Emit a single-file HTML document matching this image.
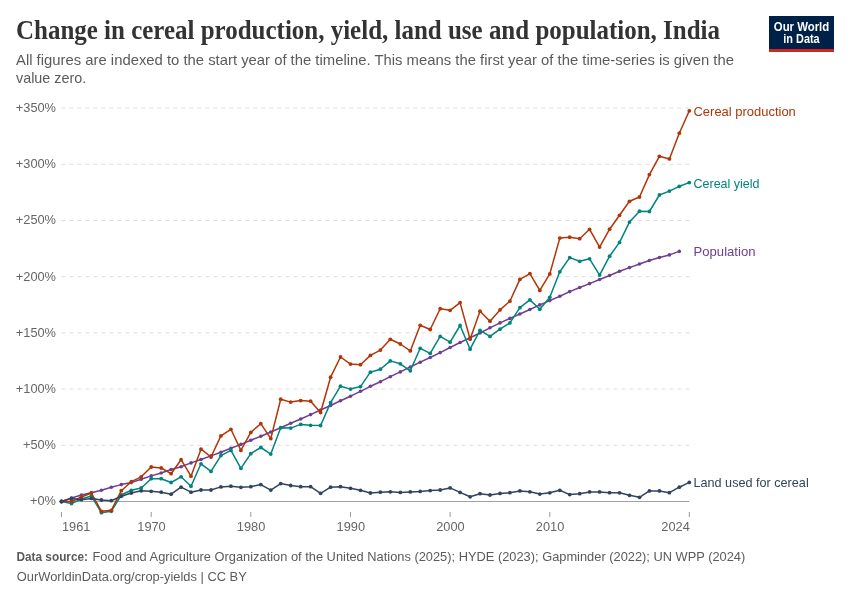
<!DOCTYPE html>
<html><head><meta charset="utf-8"><style>
html,body{margin:0;padding:0;background:#fff;}
body{width:850px;height:600px;overflow:hidden;}
svg text{font-family:"Liberation Sans",sans-serif;}
svg{will-change:transform;}
</style></head><body>
<svg width="850" height="600" viewBox="0 0 850 600">
<rect width="850" height="600" fill="#fff"/>
<text x="16" y="38.5" style="font-family:'Liberation Serif',serif" font-weight="bold" font-size="26.5" fill="#333" textLength="704" lengthAdjust="spacingAndGlyphs">Change in cereal production, yield, land use and population, India</text>
<text x="16" y="64.6" font-size="14.8" fill="#5b5b5b" textLength="718" lengthAdjust="spacingAndGlyphs">All figures are indexed to the start year of the timeline. This means the first year of the time-series is given the</text>
<text x="16" y="82.5" font-size="14.8" fill="#5b5b5b" textLength="70.3" lengthAdjust="spacingAndGlyphs">value zero.</text>
<rect x="769" y="16" width="65" height="33" fill="#002147"/>
<rect x="769" y="49" width="65" height="3" fill="#ce261e"/>
<text x="773.8" y="30.8" font-size="12" font-weight="bold" fill="#fff" textLength="55.4" lengthAdjust="spacingAndGlyphs">Our World</text>
<text x="783.3" y="42.9" font-size="12" font-weight="bold" fill="#fff" textLength="36.4" lengthAdjust="spacingAndGlyphs">in Data</text>
<line x1="61.5" x2="689.3" y1="445.3" y2="445.3" stroke="#dddddd" stroke-width="1" stroke-dasharray="4,4"/><line x1="61.5" x2="689.3" y1="389.1" y2="389.1" stroke="#dddddd" stroke-width="1" stroke-dasharray="4,4"/><line x1="61.5" x2="689.3" y1="332.9" y2="332.9" stroke="#dddddd" stroke-width="1" stroke-dasharray="4,4"/><line x1="61.5" x2="689.3" y1="276.7" y2="276.7" stroke="#dddddd" stroke-width="1" stroke-dasharray="4,4"/><line x1="61.5" x2="689.3" y1="220.5" y2="220.5" stroke="#dddddd" stroke-width="1" stroke-dasharray="4,4"/><line x1="61.5" x2="689.3" y1="164.3" y2="164.3" stroke="#dddddd" stroke-width="1" stroke-dasharray="4,4"/><line x1="61.5" x2="689.3" y1="108.1" y2="108.1" stroke="#dddddd" stroke-width="1" stroke-dasharray="4,4"/>
<g font-size="12.8" fill="#666"><text x="56" y="505.4" text-anchor="end">+0%</text><text x="56" y="449.2" text-anchor="end">+50%</text><text x="56" y="393.0" text-anchor="end">+100%</text><text x="56" y="336.8" text-anchor="end">+150%</text><text x="56" y="280.6" text-anchor="end">+200%</text><text x="56" y="224.4" text-anchor="end">+250%</text><text x="56" y="168.2" text-anchor="end">+300%</text><text x="56" y="112.0" text-anchor="end">+350%</text></g>
<line x1="61.5" x2="689.3" y1="501.5" y2="501.5" stroke="#a1a1a1" stroke-width="1"/>
<g font-size="12.8" fill="#666"><line x1="61.5" x2="61.5" y1="512" y2="517" stroke="#999" stroke-width="1"/><text x="62.0" y="531" text-anchor="start">1961</text><line x1="151.2" x2="151.2" y1="512" y2="517" stroke="#999" stroke-width="1"/><text x="151.5" y="531" text-anchor="middle">1970</text><line x1="250.8" x2="250.8" y1="512" y2="517" stroke="#999" stroke-width="1"/><text x="251.1" y="531" text-anchor="middle">1980</text><line x1="350.5" x2="350.5" y1="512" y2="517" stroke="#999" stroke-width="1"/><text x="350.8" y="531" text-anchor="middle">1990</text><line x1="450.1" x2="450.1" y1="512" y2="517" stroke="#999" stroke-width="1"/><text x="450.4" y="531" text-anchor="middle">2000</text><line x1="549.8" x2="549.8" y1="512" y2="517" stroke="#999" stroke-width="1"/><text x="550.1" y="531" text-anchor="middle">2010</text><line x1="689.3" x2="689.3" y1="512" y2="517" stroke="#999" stroke-width="1"/><text x="689.8" y="531" text-anchor="end">2024</text></g>
<path d="M61.5,501.5 L71.5,498.0 L81.4,495.0 L91.4,492.7 L101.4,490.3 L111.3,487.3 L121.3,484.6 L131.3,482.6 L141.2,479.2 L151.2,475.9 L161.2,473.0 L171.1,469.5 L181.1,466.7 L191.0,462.9 L201.0,459.5 L211.0,455.9 L220.9,452.2 L230.9,448.3 L240.9,444.4 L250.8,440.2 L260.8,436.3 L270.8,432.0 L280.7,427.7 L290.7,423.3 L300.7,419.0 L310.6,414.6 L320.6,410.0 L330.6,405.5 L340.5,400.8 L350.5,396.2 L360.5,391.3 L370.4,386.3 L380.4,381.7 L390.3,376.7 L400.3,371.9 L410.3,367.0 L420.2,362.2 L430.2,357.5 L440.2,352.6 L450.1,347.5 L460.1,342.5 L470.1,337.8 L480.0,333.0 L490.0,327.8 L500.0,322.9 L509.9,318.4 L519.9,314.0 L529.9,309.5 L539.8,304.9 L549.8,300.6 L559.8,296.3 L569.7,291.6 L579.7,287.5 L589.6,283.6 L599.6,279.5 L609.6,275.5 L619.5,271.3 L629.5,267.6 L639.5,264.0 L649.4,260.5 L659.4,257.5 L669.4,254.9 L679.3,251.4" fill="none" stroke="#6d3e91" stroke-width="1.5" stroke-linejoin="round"/><g fill="#6d3e91"><circle cx="61.5" cy="501.5" r="1.8"/><circle cx="71.5" cy="498.0" r="1.8"/><circle cx="81.4" cy="495.0" r="1.8"/><circle cx="91.4" cy="492.7" r="1.8"/><circle cx="101.4" cy="490.3" r="1.8"/><circle cx="111.3" cy="487.3" r="1.8"/><circle cx="121.3" cy="484.6" r="1.8"/><circle cx="131.3" cy="482.6" r="1.8"/><circle cx="141.2" cy="479.2" r="1.8"/><circle cx="151.2" cy="475.9" r="1.8"/><circle cx="161.2" cy="473.0" r="1.8"/><circle cx="171.1" cy="469.5" r="1.8"/><circle cx="181.1" cy="466.7" r="1.8"/><circle cx="191.0" cy="462.9" r="1.8"/><circle cx="201.0" cy="459.5" r="1.8"/><circle cx="211.0" cy="455.9" r="1.8"/><circle cx="220.9" cy="452.2" r="1.8"/><circle cx="230.9" cy="448.3" r="1.8"/><circle cx="240.9" cy="444.4" r="1.8"/><circle cx="250.8" cy="440.2" r="1.8"/><circle cx="260.8" cy="436.3" r="1.8"/><circle cx="270.8" cy="432.0" r="1.8"/><circle cx="280.7" cy="427.7" r="1.8"/><circle cx="290.7" cy="423.3" r="1.8"/><circle cx="300.7" cy="419.0" r="1.8"/><circle cx="310.6" cy="414.6" r="1.8"/><circle cx="320.6" cy="410.0" r="1.8"/><circle cx="330.6" cy="405.5" r="1.8"/><circle cx="340.5" cy="400.8" r="1.8"/><circle cx="350.5" cy="396.2" r="1.8"/><circle cx="360.5" cy="391.3" r="1.8"/><circle cx="370.4" cy="386.3" r="1.8"/><circle cx="380.4" cy="381.7" r="1.8"/><circle cx="390.3" cy="376.7" r="1.8"/><circle cx="400.3" cy="371.9" r="1.8"/><circle cx="410.3" cy="367.0" r="1.8"/><circle cx="420.2" cy="362.2" r="1.8"/><circle cx="430.2" cy="357.5" r="1.8"/><circle cx="440.2" cy="352.6" r="1.8"/><circle cx="450.1" cy="347.5" r="1.8"/><circle cx="460.1" cy="342.5" r="1.8"/><circle cx="470.1" cy="337.8" r="1.8"/><circle cx="480.0" cy="333.0" r="1.8"/><circle cx="490.0" cy="327.8" r="1.8"/><circle cx="500.0" cy="322.9" r="1.8"/><circle cx="509.9" cy="318.4" r="1.8"/><circle cx="519.9" cy="314.0" r="1.8"/><circle cx="529.9" cy="309.5" r="1.8"/><circle cx="539.8" cy="304.9" r="1.8"/><circle cx="549.8" cy="300.6" r="1.8"/><circle cx="559.8" cy="296.3" r="1.8"/><circle cx="569.7" cy="291.6" r="1.8"/><circle cx="579.7" cy="287.5" r="1.8"/><circle cx="589.6" cy="283.6" r="1.8"/><circle cx="599.6" cy="279.5" r="1.8"/><circle cx="609.6" cy="275.5" r="1.8"/><circle cx="619.5" cy="271.3" r="1.8"/><circle cx="629.5" cy="267.6" r="1.8"/><circle cx="639.5" cy="264.0" r="1.8"/><circle cx="649.4" cy="260.5" r="1.8"/><circle cx="659.4" cy="257.5" r="1.8"/><circle cx="669.4" cy="254.9" r="1.8"/><circle cx="679.3" cy="251.4" r="1.8"/></g>
<path d="M61.5,501.5 L71.5,503.6 L81.4,499.0 L91.4,496.0 L101.4,512.7 L111.3,511.3 L121.3,495.0 L131.3,490.3 L141.2,488.0 L151.2,478.7 L161.2,478.7 L171.1,482.5 L181.1,476.8 L191.0,486.2 L201.0,463.8 L211.0,471.4 L220.9,455.6 L230.9,450.4 L240.9,468.3 L250.8,453.7 L260.8,447.5 L270.8,454.1 L280.7,427.7 L290.7,428.1 L300.7,424.4 L310.6,425.3 L320.6,425.5 L330.6,402.6 L340.5,386.2 L350.5,389.1 L360.5,386.6 L370.4,372.2 L380.4,369.2 L390.3,360.9 L400.3,363.8 L410.3,370.8 L420.2,348.3 L430.2,353.4 L440.2,336.4 L450.1,342.2 L460.1,325.5 L470.1,349.2 L480.0,330.3 L490.0,336.4 L500.0,329.2 L509.9,322.9 L519.9,307.7 L529.9,299.9 L539.8,309.3 L549.8,297.3 L559.8,271.8 L569.7,257.6 L579.7,261.3 L589.6,258.8 L599.6,275.1 L609.6,256.2 L619.5,242.4 L629.5,222.1 L639.5,211.2 L649.4,211.5 L659.4,195.0 L669.4,191.1 L679.3,186.3 L689.3,182.6" fill="none" stroke="#00847e" stroke-width="1.5" stroke-linejoin="round"/><g fill="#00847e"><circle cx="61.5" cy="501.5" r="1.9"/><circle cx="71.5" cy="503.6" r="1.9"/><circle cx="81.4" cy="499.0" r="1.9"/><circle cx="91.4" cy="496.0" r="1.9"/><circle cx="101.4" cy="512.7" r="1.9"/><circle cx="111.3" cy="511.3" r="1.9"/><circle cx="121.3" cy="495.0" r="1.9"/><circle cx="131.3" cy="490.3" r="1.9"/><circle cx="141.2" cy="488.0" r="1.9"/><circle cx="151.2" cy="478.7" r="1.9"/><circle cx="161.2" cy="478.7" r="1.9"/><circle cx="171.1" cy="482.5" r="1.9"/><circle cx="181.1" cy="476.8" r="1.9"/><circle cx="191.0" cy="486.2" r="1.9"/><circle cx="201.0" cy="463.8" r="1.9"/><circle cx="211.0" cy="471.4" r="1.9"/><circle cx="220.9" cy="455.6" r="1.9"/><circle cx="230.9" cy="450.4" r="1.9"/><circle cx="240.9" cy="468.3" r="1.9"/><circle cx="250.8" cy="453.7" r="1.9"/><circle cx="260.8" cy="447.5" r="1.9"/><circle cx="270.8" cy="454.1" r="1.9"/><circle cx="280.7" cy="427.7" r="1.9"/><circle cx="290.7" cy="428.1" r="1.9"/><circle cx="300.7" cy="424.4" r="1.9"/><circle cx="310.6" cy="425.3" r="1.9"/><circle cx="320.6" cy="425.5" r="1.9"/><circle cx="330.6" cy="402.6" r="1.9"/><circle cx="340.5" cy="386.2" r="1.9"/><circle cx="350.5" cy="389.1" r="1.9"/><circle cx="360.5" cy="386.6" r="1.9"/><circle cx="370.4" cy="372.2" r="1.9"/><circle cx="380.4" cy="369.2" r="1.9"/><circle cx="390.3" cy="360.9" r="1.9"/><circle cx="400.3" cy="363.8" r="1.9"/><circle cx="410.3" cy="370.8" r="1.9"/><circle cx="420.2" cy="348.3" r="1.9"/><circle cx="430.2" cy="353.4" r="1.9"/><circle cx="440.2" cy="336.4" r="1.9"/><circle cx="450.1" cy="342.2" r="1.9"/><circle cx="460.1" cy="325.5" r="1.9"/><circle cx="470.1" cy="349.2" r="1.9"/><circle cx="480.0" cy="330.3" r="1.9"/><circle cx="490.0" cy="336.4" r="1.9"/><circle cx="500.0" cy="329.2" r="1.9"/><circle cx="509.9" cy="322.9" r="1.9"/><circle cx="519.9" cy="307.7" r="1.9"/><circle cx="529.9" cy="299.9" r="1.9"/><circle cx="539.8" cy="309.3" r="1.9"/><circle cx="549.8" cy="297.3" r="1.9"/><circle cx="559.8" cy="271.8" r="1.9"/><circle cx="569.7" cy="257.6" r="1.9"/><circle cx="579.7" cy="261.3" r="1.9"/><circle cx="589.6" cy="258.8" r="1.9"/><circle cx="599.6" cy="275.1" r="1.9"/><circle cx="609.6" cy="256.2" r="1.9"/><circle cx="619.5" cy="242.4" r="1.9"/><circle cx="629.5" cy="222.1" r="1.9"/><circle cx="639.5" cy="211.2" r="1.9"/><circle cx="649.4" cy="211.5" r="1.9"/><circle cx="659.4" cy="195.0" r="1.9"/><circle cx="669.4" cy="191.1" r="1.9"/><circle cx="679.3" cy="186.3" r="1.9"/><circle cx="689.3" cy="182.6" r="1.9"/></g>
<path d="M61.5,501.5 L71.5,501.5 L81.4,497.0 L91.4,493.0 L101.4,511.3 L111.3,510.3 L121.3,490.7 L131.3,481.7 L141.2,476.8 L151.2,467.0 L161.2,468.0 L171.1,473.7 L181.1,459.7 L191.0,476.2 L201.0,449.2 L211.0,457.0 L220.9,435.9 L230.9,429.3 L240.9,450.4 L250.8,432.4 L260.8,423.7 L270.8,438.6 L280.7,399.2 L290.7,402.1 L300.7,400.6 L310.6,401.2 L320.6,412.5 L330.6,377.2 L340.5,357.0 L350.5,364.1 L360.5,364.7 L370.4,355.4 L380.4,350.1 L390.3,339.3 L400.3,344.0 L410.3,350.9 L420.2,325.3 L430.2,329.5 L440.2,308.7 L450.1,310.3 L460.1,302.6 L470.1,339.2 L480.0,311.2 L490.0,321.2 L500.0,309.9 L509.9,301.2 L519.9,279.4 L529.9,273.6 L539.8,290.4 L549.8,273.9 L559.8,238.1 L569.7,237.2 L579.7,238.7 L589.6,229.3 L599.6,247.1 L609.6,229.2 L619.5,215.3 L629.5,201.3 L639.5,197.0 L649.4,174.6 L659.4,156.3 L669.4,158.9 L679.3,133.2 L689.3,110.8" fill="none" stroke="#b13507" stroke-width="1.5" stroke-linejoin="round"/><g fill="#b13507"><circle cx="61.5" cy="501.5" r="1.9"/><circle cx="71.5" cy="501.5" r="1.9"/><circle cx="81.4" cy="497.0" r="1.9"/><circle cx="91.4" cy="493.0" r="1.9"/><circle cx="101.4" cy="511.3" r="1.9"/><circle cx="111.3" cy="510.3" r="1.9"/><circle cx="121.3" cy="490.7" r="1.9"/><circle cx="131.3" cy="481.7" r="1.9"/><circle cx="141.2" cy="476.8" r="1.9"/><circle cx="151.2" cy="467.0" r="1.9"/><circle cx="161.2" cy="468.0" r="1.9"/><circle cx="171.1" cy="473.7" r="1.9"/><circle cx="181.1" cy="459.7" r="1.9"/><circle cx="191.0" cy="476.2" r="1.9"/><circle cx="201.0" cy="449.2" r="1.9"/><circle cx="211.0" cy="457.0" r="1.9"/><circle cx="220.9" cy="435.9" r="1.9"/><circle cx="230.9" cy="429.3" r="1.9"/><circle cx="240.9" cy="450.4" r="1.9"/><circle cx="250.8" cy="432.4" r="1.9"/><circle cx="260.8" cy="423.7" r="1.9"/><circle cx="270.8" cy="438.6" r="1.9"/><circle cx="280.7" cy="399.2" r="1.9"/><circle cx="290.7" cy="402.1" r="1.9"/><circle cx="300.7" cy="400.6" r="1.9"/><circle cx="310.6" cy="401.2" r="1.9"/><circle cx="320.6" cy="412.5" r="1.9"/><circle cx="330.6" cy="377.2" r="1.9"/><circle cx="340.5" cy="357.0" r="1.9"/><circle cx="350.5" cy="364.1" r="1.9"/><circle cx="360.5" cy="364.7" r="1.9"/><circle cx="370.4" cy="355.4" r="1.9"/><circle cx="380.4" cy="350.1" r="1.9"/><circle cx="390.3" cy="339.3" r="1.9"/><circle cx="400.3" cy="344.0" r="1.9"/><circle cx="410.3" cy="350.9" r="1.9"/><circle cx="420.2" cy="325.3" r="1.9"/><circle cx="430.2" cy="329.5" r="1.9"/><circle cx="440.2" cy="308.7" r="1.9"/><circle cx="450.1" cy="310.3" r="1.9"/><circle cx="460.1" cy="302.6" r="1.9"/><circle cx="470.1" cy="339.2" r="1.9"/><circle cx="480.0" cy="311.2" r="1.9"/><circle cx="490.0" cy="321.2" r="1.9"/><circle cx="500.0" cy="309.9" r="1.9"/><circle cx="509.9" cy="301.2" r="1.9"/><circle cx="519.9" cy="279.4" r="1.9"/><circle cx="529.9" cy="273.6" r="1.9"/><circle cx="539.8" cy="290.4" r="1.9"/><circle cx="549.8" cy="273.9" r="1.9"/><circle cx="559.8" cy="238.1" r="1.9"/><circle cx="569.7" cy="237.2" r="1.9"/><circle cx="579.7" cy="238.7" r="1.9"/><circle cx="589.6" cy="229.3" r="1.9"/><circle cx="599.6" cy="247.1" r="1.9"/><circle cx="609.6" cy="229.2" r="1.9"/><circle cx="619.5" cy="215.3" r="1.9"/><circle cx="629.5" cy="201.3" r="1.9"/><circle cx="639.5" cy="197.0" r="1.9"/><circle cx="649.4" cy="174.6" r="1.9"/><circle cx="659.4" cy="156.3" r="1.9"/><circle cx="669.4" cy="158.9" r="1.9"/><circle cx="679.3" cy="133.2" r="1.9"/><circle cx="689.3" cy="110.8" r="1.9"/></g>
<path d="M61.5,501.5 L71.5,498.4 L81.4,499.7 L91.4,498.4 L101.4,500.0 L111.3,500.7 L121.3,496.3 L131.3,493.0 L141.2,490.8 L151.2,491.3 L161.2,492.2 L171.1,494.2 L181.1,487.2 L191.0,492.2 L201.0,490.0 L211.0,490.0 L220.9,486.9 L230.9,486.2 L240.9,487.3 L250.8,486.7 L260.8,484.6 L270.8,490.1 L280.7,483.6 L290.7,485.5 L300.7,486.7 L310.6,486.7 L320.6,493.3 L330.6,487.2 L340.5,486.7 L350.5,488.3 L360.5,490.3 L370.4,493.0 L380.4,492.2 L390.3,491.8 L400.3,492.4 L410.3,491.9 L420.2,491.4 L430.2,490.6 L440.2,490.0 L450.1,487.9 L460.1,492.4 L470.1,496.8 L480.0,493.7 L490.0,495.0 L500.0,493.4 L509.9,492.7 L519.9,490.9 L529.9,491.8 L539.8,494.1 L549.8,492.8 L559.8,490.3 L569.7,494.6 L579.7,493.7 L589.6,491.9 L599.6,491.9 L609.6,492.7 L619.5,492.8 L629.5,495.3 L639.5,497.3 L649.4,490.9 L659.4,490.9 L669.4,492.7 L679.3,487.2 L689.3,482.4" fill="none" stroke="#31445f" stroke-width="1.5" stroke-linejoin="round"/><g fill="#31445f"><circle cx="61.5" cy="501.5" r="1.9"/><circle cx="71.5" cy="498.4" r="1.9"/><circle cx="81.4" cy="499.7" r="1.9"/><circle cx="91.4" cy="498.4" r="1.9"/><circle cx="101.4" cy="500.0" r="1.9"/><circle cx="111.3" cy="500.7" r="1.9"/><circle cx="121.3" cy="496.3" r="1.9"/><circle cx="131.3" cy="493.0" r="1.9"/><circle cx="141.2" cy="490.8" r="1.9"/><circle cx="151.2" cy="491.3" r="1.9"/><circle cx="161.2" cy="492.2" r="1.9"/><circle cx="171.1" cy="494.2" r="1.9"/><circle cx="181.1" cy="487.2" r="1.9"/><circle cx="191.0" cy="492.2" r="1.9"/><circle cx="201.0" cy="490.0" r="1.9"/><circle cx="211.0" cy="490.0" r="1.9"/><circle cx="220.9" cy="486.9" r="1.9"/><circle cx="230.9" cy="486.2" r="1.9"/><circle cx="240.9" cy="487.3" r="1.9"/><circle cx="250.8" cy="486.7" r="1.9"/><circle cx="260.8" cy="484.6" r="1.9"/><circle cx="270.8" cy="490.1" r="1.9"/><circle cx="280.7" cy="483.6" r="1.9"/><circle cx="290.7" cy="485.5" r="1.9"/><circle cx="300.7" cy="486.7" r="1.9"/><circle cx="310.6" cy="486.7" r="1.9"/><circle cx="320.6" cy="493.3" r="1.9"/><circle cx="330.6" cy="487.2" r="1.9"/><circle cx="340.5" cy="486.7" r="1.9"/><circle cx="350.5" cy="488.3" r="1.9"/><circle cx="360.5" cy="490.3" r="1.9"/><circle cx="370.4" cy="493.0" r="1.9"/><circle cx="380.4" cy="492.2" r="1.9"/><circle cx="390.3" cy="491.8" r="1.9"/><circle cx="400.3" cy="492.4" r="1.9"/><circle cx="410.3" cy="491.9" r="1.9"/><circle cx="420.2" cy="491.4" r="1.9"/><circle cx="430.2" cy="490.6" r="1.9"/><circle cx="440.2" cy="490.0" r="1.9"/><circle cx="450.1" cy="487.9" r="1.9"/><circle cx="460.1" cy="492.4" r="1.9"/><circle cx="470.1" cy="496.8" r="1.9"/><circle cx="480.0" cy="493.7" r="1.9"/><circle cx="490.0" cy="495.0" r="1.9"/><circle cx="500.0" cy="493.4" r="1.9"/><circle cx="509.9" cy="492.7" r="1.9"/><circle cx="519.9" cy="490.9" r="1.9"/><circle cx="529.9" cy="491.8" r="1.9"/><circle cx="539.8" cy="494.1" r="1.9"/><circle cx="549.8" cy="492.8" r="1.9"/><circle cx="559.8" cy="490.3" r="1.9"/><circle cx="569.7" cy="494.6" r="1.9"/><circle cx="579.7" cy="493.7" r="1.9"/><circle cx="589.6" cy="491.9" r="1.9"/><circle cx="599.6" cy="491.9" r="1.9"/><circle cx="609.6" cy="492.7" r="1.9"/><circle cx="619.5" cy="492.8" r="1.9"/><circle cx="629.5" cy="495.3" r="1.9"/><circle cx="639.5" cy="497.3" r="1.9"/><circle cx="649.4" cy="490.9" r="1.9"/><circle cx="659.4" cy="490.9" r="1.9"/><circle cx="669.4" cy="492.7" r="1.9"/><circle cx="679.3" cy="487.2" r="1.9"/><circle cx="689.3" cy="482.4" r="1.9"/></g>
<g font-size="13.4">
<text x="693.5" y="115.7" fill="#b13507" textLength="102.3" lengthAdjust="spacingAndGlyphs">Cereal production</text>
<text x="693.5" y="187.5" fill="#00847e" textLength="66" lengthAdjust="spacingAndGlyphs">Cereal yield</text>
<text x="693.5" y="256.2" fill="#6d3e91" textLength="62" lengthAdjust="spacingAndGlyphs">Population</text>
<text x="693.5" y="487" fill="#31445f" textLength="115.2" lengthAdjust="spacingAndGlyphs">Land used for cereal</text>
</g>
<text x="16.5" y="561" font-size="13" fill="#5b5b5b" font-weight="bold" textLength="71.5" lengthAdjust="spacingAndGlyphs">Data source:</text>
<text x="92.5" y="561" font-size="13" fill="#5b5b5b" textLength="652.8" lengthAdjust="spacingAndGlyphs">Food and Agriculture Organization of the United Nations (2025); HYDE (2023); Gapminder (2022); UN WPP (2024)</text>
<text x="16.8" y="580.7" font-size="13" fill="#5b5b5b" textLength="230" lengthAdjust="spacingAndGlyphs">OurWorldinData.org/crop-yields | CC BY</text>
</svg>
</body></html>
